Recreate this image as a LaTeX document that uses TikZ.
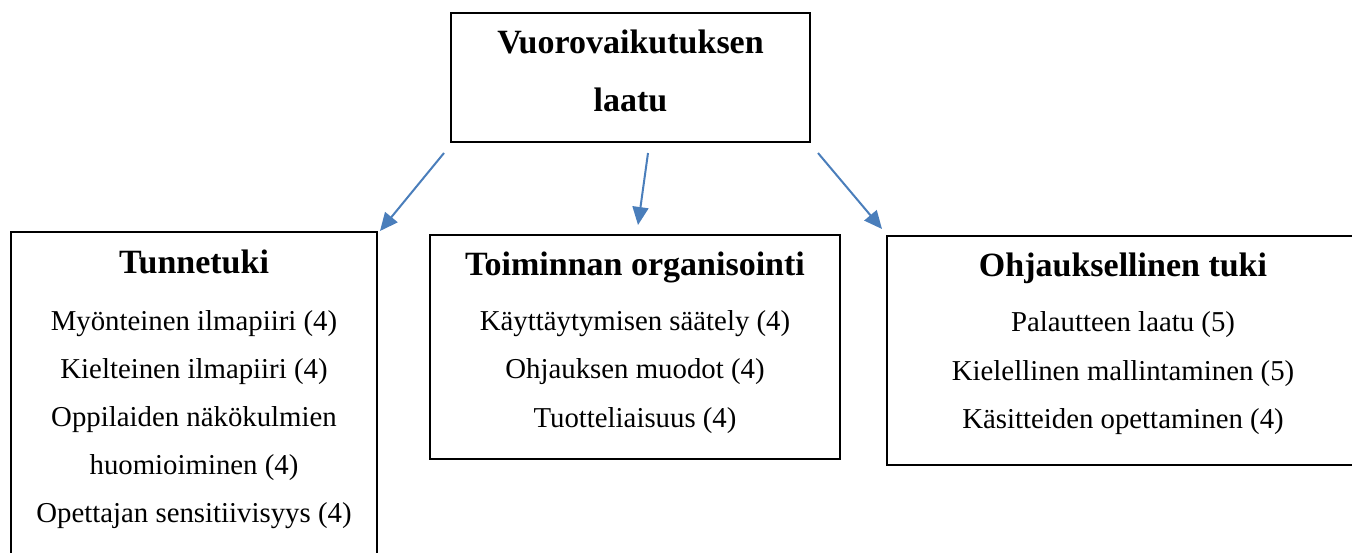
\documentclass[tikz,border=0pt]{standalone}
\usepackage{fontspec}
\setmainfont{Liberation Serif}
\usetikzlibrary{arrows.meta}
\definecolor{arrowblue}{HTML}{4A7EBB}
\tikzset{
  box/.style={draw=black, line width=0.6pt, rectangle, inner sep=0pt},
  txt/.style={font=\fontsize{14.4}{16}\selectfont, inner sep=0pt, anchor=base},
  ttl/.style={font=\fontsize{17}{19}\selectfont\bfseries, inner sep=0pt, anchor=base},
  conn/.style={draw=arrowblue, line width=1pt, -{Triangle[length=9pt,width=8pt]}}
}
\begin{document}
\begin{tikzpicture}[x=0.5pt,y=-0.5pt]
\useasboundingbox (0,0) rectangle (1352,552);
\clip (0,0) rectangle (1352,552);
% boxes
\node[box, minimum width=179.5pt, minimum height=64.5pt] (top) at (630.5,77.5) {};
\node[box, minimum width=183pt, minimum height=184pt] (left) at (194,416) {};
\node[box, minimum width=205pt, minimum height=112pt] (mid) at (635,347) {};
\node[box, minimum width=236.5pt, minimum height=114.5pt] (right) at (1123.5,350.5) {};
% top text
\node[ttl] (t1) at (630.5,53) {Vuorovaikutuksen};
\node[ttl] (t2) at (630.5,111) {laatu};
% left text
\node[ttl] (l0) at (194,273) {Tunnetuki};
\node[txt] (l1) at (194,330) {Myönteinen ilmapiiri (4)};
\node[txt] (l2) at (194,378) {Kielteinen ilmapiiri (4)};
\node[txt] (l3) at (194,426) {Oppilaiden näkökulmien};
\node[txt] (l4) at (194,474) {huomioiminen (4)};
\node[txt] (l5) at (194,522) {Opettajan sensitiivisyys (4)};
% middle text
\node[ttl] (m0) at (635,275) {Toiminnan organisointi};
\node[txt] (m1) at (635,330) {Käyttäytymisen säätely (4)};
\node[txt] (m2) at (635,378) {Ohjauksen muodot (4)};
\node[txt] (m3) at (635,427) {Tuotteliaisuus (4)};
% right text
\node[ttl] (r0) at (1123,276) {Ohjauksellinen tuki};
\node[txt] (r1) at (1123,331) {Palautteen laatu (5)};
\node[txt] (r2) at (1123,380) {Kielellinen mallintaminen (5)};
\node[txt] (r3) at (1123,428) {Käsitteiden opettaminen (4)};
% connectors
\coordinate (a1s) at (444,153);
\coordinate (a1e) at (380,231);
\coordinate (a2s) at (648,153);
\coordinate (a2e) at (638,225);
\coordinate (a3s) at (818,153);
\coordinate (a3e) at (882,229);
\draw[conn] (a1s) -- (a1e);
\draw[conn] (a2s) -- (a2e);
\draw[conn] (a3s) -- (a3e);
\end{tikzpicture}
\end{document}
